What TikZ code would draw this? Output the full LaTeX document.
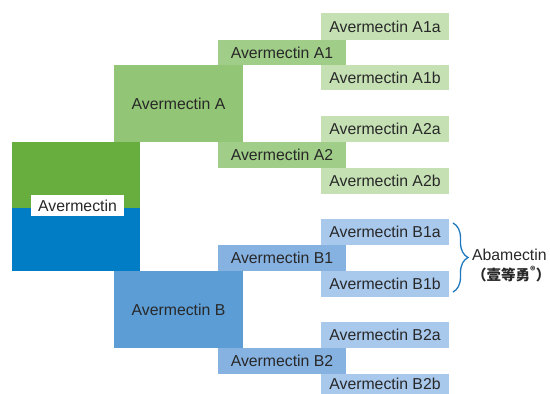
\documentclass[tikz,border=0pt]{standalone}
\usepackage{fontspec}
\setmainfont{Liberation Sans}
\newfontfamily\cjkfont{Noto Sans CJK SC}
\usetikzlibrary{decorations.pathreplacing}
\definecolor{gMain}{RGB}{104,174,62}
\definecolor{bMain}{RGB}{0,125,196}
\definecolor{gMid}{RGB}{146,197,117}
\definecolor{gSub}{RGB}{160,205,135}
\definecolor{gLeaf}{RGB}{197,225,180}
\definecolor{bMid}{RGB}{92,157,213}
\definecolor{bSub}{RGB}{134,178,226}
\definecolor{bLeaf}{RGB}{168,200,236}
\definecolor{txt}{RGB}{40,40,40}
\definecolor{braceblue}{RGB}{30,120,190}
\tikzset{
  box/.style={rectangle, inner sep=0pt, outer sep=0pt, draw=none, text=txt,
    font=\fontsize{15.8}{18}\selectfont},
  leafbox/.style={box, minimum width=128pt, minimum height=26pt},
  subbox/.style={box, minimum width=128pt, minimum height=26pt},
  midbox/.style={box, minimum width=129pt, minimum height=77pt},
}
\begin{document}
\begin{tikzpicture}[x=1pt,y=-1pt]
\useasboundingbox (0,0) rectangle (550,394);
\clip (0,0) rectangle (550,394);
% main box
\node[box, fill=gMain, minimum width=128pt, minimum height=66pt] (maing) at (76,175) {};
\node[box, fill=bMain, minimum width=128pt, minimum height=63pt] (mainb) at (76,239.5) {};
\node[box, fill=white, minimum width=93pt, minimum height=21pt] (main) at (77.5,205.5) {Avermectin};
% A branch
\node[midbox, fill=gMid] (A) at (178.5,103.5) {Avermectin A};
\node[subbox, fill=gSub, minimum height=25pt] (A1) at (282,52.5) {Avermectin A1};
\node[leafbox, fill=gLeaf, minimum height=27pt] (A1a) at (385,26.5) {Avermectin A1a};
\node[leafbox, fill=gLeaf, minimum height=25pt] (A1b) at (385,77.5) {Avermectin A1b};
\node[leafbox, fill=gLeaf] (A2a) at (385,129) {Avermectin A2a};
\node[subbox, fill=gSub] (A2) at (282,155) {Avermectin A2};
\node[leafbox, fill=gLeaf] (A2b) at (385,181) {Avermectin A2b};
% B branch
\node[midbox, fill=bMid] (B) at (178.5,309.5) {Avermectin B};
\node[leafbox, fill=bLeaf] (B1a) at (385,232) {Avermectin B1a};
\node[subbox, fill=bSub] (B1) at (282,258) {Avermectin B1};
\node[leafbox, fill=bLeaf] (B1b) at (385,284) {Avermectin B1b};
\node[leafbox, fill=bLeaf] (B2a) at (385,335) {Avermectin B2a};
\node[subbox, fill=bSub] (B2) at (282,361) {Avermectin B2};
\node[leafbox, fill=bLeaf, minimum height=20pt] (B2b) at (385,384) {Avermectin B2b};
% brace
\coordinate (bt) at (453,223);
\coordinate (bb) at (453,292);
\draw[braceblue, line width=1.3pt, decorate, decoration={brace, amplitude=15pt}] (bt) -- (bb);
\node[box, anchor=west] (aba) at (472,255) {Abamectin};
\node[box, anchor=west, font=\cjkfont\bfseries\fontsize{14.5}{16}\selectfont] (abacn) at (472,274) {（壹等勇\textsuperscript{®}）};
\end{tikzpicture}
\end{document}
